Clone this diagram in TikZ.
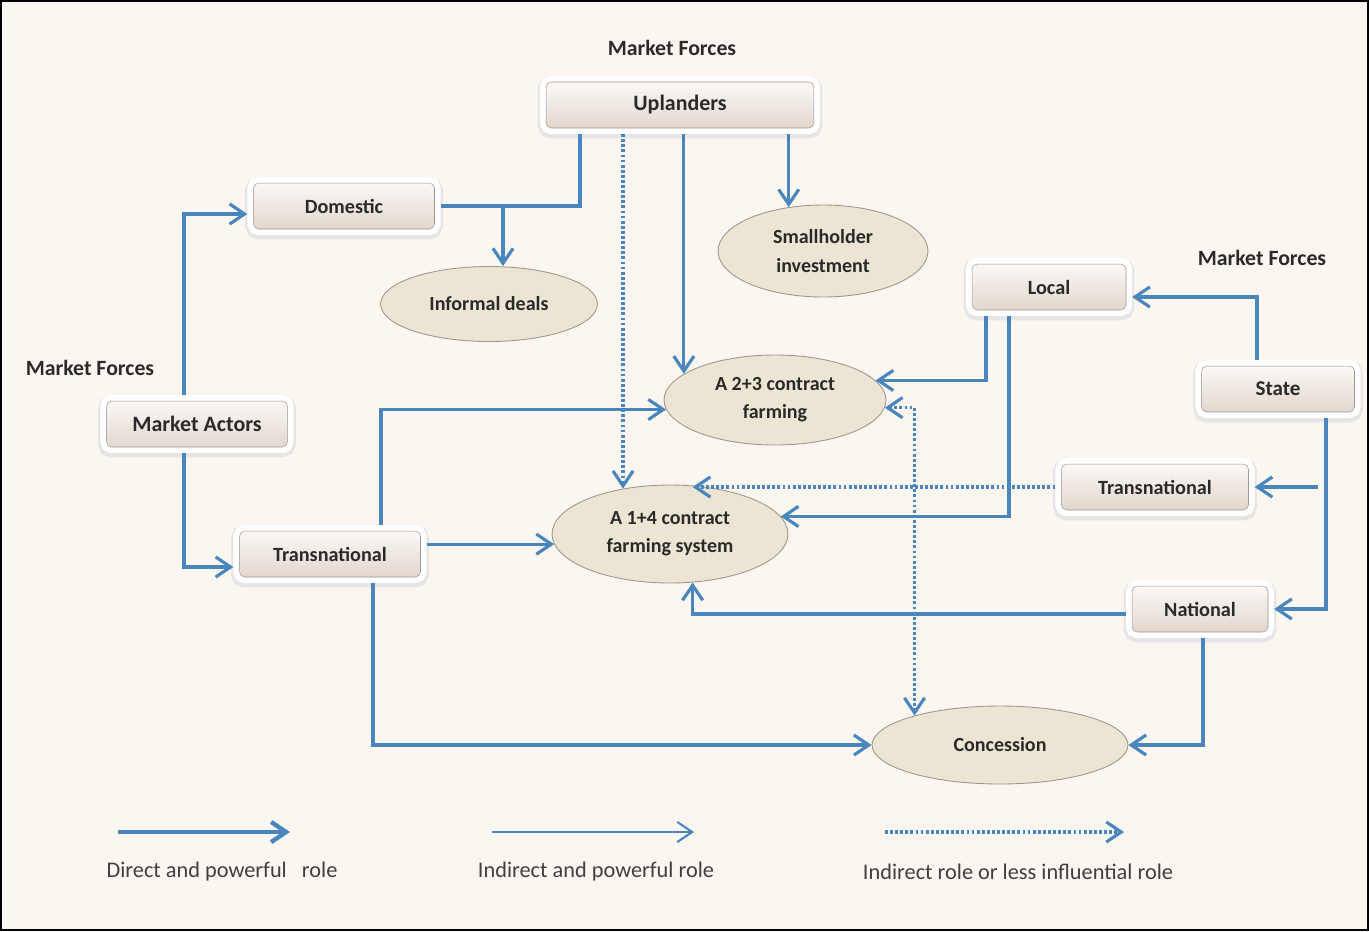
\documentclass[tikz,border=0pt]{standalone}
\usepackage{fontspec}
\setmainfont{Carlito}
\usetikzlibrary{arrows.meta,shapes.geometric}
\definecolor{bg}{HTML}{FBF7F0}
\definecolor{ln}{HTML}{4A86BE}
\definecolor{ellfill}{HTML}{EDE5D3}
\definecolor{elldraw}{HTML}{9C9890}
\definecolor{boxtop}{HTML}{FBF8F5}
\definecolor{boxbot}{HTML}{E2D7CE}
\definecolor{txt}{HTML}{2A2A2A}
\begin{document}
\begin{tikzpicture}[x=0.02cm,y=-0.02cm,
  boxnode/.style={rounded corners=3pt, top color=boxtop, bottom color=boxbot,
    draw=boxbot!70!black, line width=0.3pt, minimum height=0.92cm, inner sep=0pt,
    outer sep=3.5pt, text=txt, font=\fontsize{11.5}{14}\selectfont\bfseries,
    preaction={draw=black!10, line width=9.5pt, transform canvas={yshift=-1.2pt}},
    preaction={draw=white, line width=7pt}},
  ell/.style={ellipse, fill=ellfill, draw=elldraw, line width=0.5pt, inner sep=0pt,
    text=txt, align=center, font=\fontsize{11.4}{16}\selectfont\bfseries},
  lab/.style={text=txt, font=\fontsize{12.4}{15}\selectfont\bfseries},
  legtxt/.style={text=txt!90, font=\fontsize{12.7}{15}\selectfont},
  tip/.style={-{Straight Barb[length=8.5pt,width=11.5pt]}},
  plain/.style={draw=ln, line width=1.8pt},
  con/.style={plain, tip},
  dots/.style={draw=ln, line width=1.8pt, dash pattern=on 1.6pt off 1.3pt},
]
\useasboundingbox (0,0) rectangle (1369,931);
\fill[bg] (0,0) rectangle (1369,931);
\draw[black, line width=0.04cm] (1,1) rectangle (1368,930);

% labels
\node[lab] (mf1) at (672,48) {Market Forces};
\node[lab] (mf2) at (90,368) {Market Forces};
\node[lab] (mf3) at (1262,258) {Market Forces};

% boxes
\node[boxnode, minimum width=5.36cm, font=\fontsize{12.5}{15}\selectfont\bfseries] (upl) at (680,105) {Uplanders};
\node[boxnode, minimum width=3.62cm] (dom) at (344,206) {Domestic};
\node[boxnode, minimum width=3.62cm, font=\fontsize{12.5}{15}\selectfont\bfseries] (ma) at (197,424) {Market Actors};
\node[boxnode, minimum width=3.62cm] (trl) at (330,554) {Transnational};
\node[boxnode, minimum width=3.08cm] (loc) at (1049,287) {Local};
\node[boxnode, minimum width=3.06cm, font=\fontsize{12}{15}\selectfont\bfseries] (st) at (1278,389) {State};
\node[boxnode, minimum width=3.74cm] (trr) at (1155,487) {Transnational};
\node[boxnode, minimum width=2.72cm] (nat) at (1200,609) {National};

% ellipses
\node[ell, minimum width=4.34cm, minimum height=1.5cm] (inf) at (489,304) {Informal deals};
\node[ell, minimum width=4.2cm, minimum height=1.84cm] (sm) at (823,251) {Smallholder\\investment};
\node[ell, minimum width=4.44cm, minimum height=1.8cm] (a23) at (775,400) {A 2+3 contract\\farming};
\node[ell, minimum width=4.72cm, minimum height=1.96cm] (a14) at (670,534) {A 1+4 contract\\farming system};
\node[ell, minimum width=5.12cm, minimum height=1.56cm] (conc) at (1000,745) {Concession};

% guide coordinates
\coordinate (x580) at (580,0);
\coordinate (x503) at (503,0);
\coordinate (x184) at (184,0);
\coordinate (x381) at (381,0);
\coordinate (x373) at (373,0);
\coordinate (x986) at (986,0);
\coordinate (x1009) at (1009,0);
\coordinate (x1257) at (1257,0);
\coordinate (x1326) at (1326,0);
\coordinate (x1318) at (1318,0);
\coordinate (x1203) at (1203,0);

% connectors
\draw[plain] (upl.south -| x580) |- (dom.east);
\draw[con] (x503 |- dom.east) -- (x503 |- inf.north);
\draw[dots, tip] (upl.south -| a14.136) -- (a14.136);
\draw[con] (upl.south -| a23.164) -- (a23.164);
\draw[con] (upl.south -| sm.128) -- (sm.128);

\draw[con] (ma.north -| x184) |- ([yshift=-0.16cm]dom.west);
\draw[con] (ma.south -| x184) |- ([yshift=-0.26cm]trl.west);

\draw[con] (trl.north -| x381) |- (a23.185);
\draw[con] (a14.185 -| trl.east) -- (a14.185);
\draw[con] (trl.south -| x373) |- (conc.west);

\draw[con] (loc.south -| x986) |- (a23.11);
\draw[con] (loc.south -| x1009) |- (a14.9);

\draw[con] (st.north -| x1257) |- ([yshift=-0.2cm]loc.east);
\draw[con] (st.south -| x1326) |- (nat.east);
\draw[con] (x1318 |- trr.east) -- (trr.east);

\draw[dots, tip] (trr.west) -- (trr.west -| a14.65);
\draw[dots, {Straight Barb[length=8.5pt,width=11.5pt]}-{Straight Barb[length=8.5pt,width=11.5pt]}] (a23.-4) -| (conc.161);

\draw[con] ([yshift=-0.1cm]nat.west) -| (a14.-65);
\draw[con] (nat.south -| x1203) |- (conc.east);

% legend
\coordinate (l1a) at (118,832);
\coordinate (l1b) at (290,832);
\coordinate (l2a) at (492,832);
\coordinate (l2b) at (694,832);
\coordinate (l3a) at (885,832);
\coordinate (l3b) at (1124,832);
\draw[draw=ln, line width=2.5pt, tip] (l1a) -- (l1b);
\draw[draw=ln, line width=1.2pt, tip] (l2a) -- (l2b);
\draw[dots, tip] (l3a) -- (l3b);
\node[legtxt] (t1) at (222,872) {Direct and powerful\ \ \ role};
\node[legtxt] (t2) at (596,872) {Indirect and powerful role};
\node[legtxt] (t3) at (1018,872) {Indirect role or less influential role};
\end{tikzpicture}
\end{document}
